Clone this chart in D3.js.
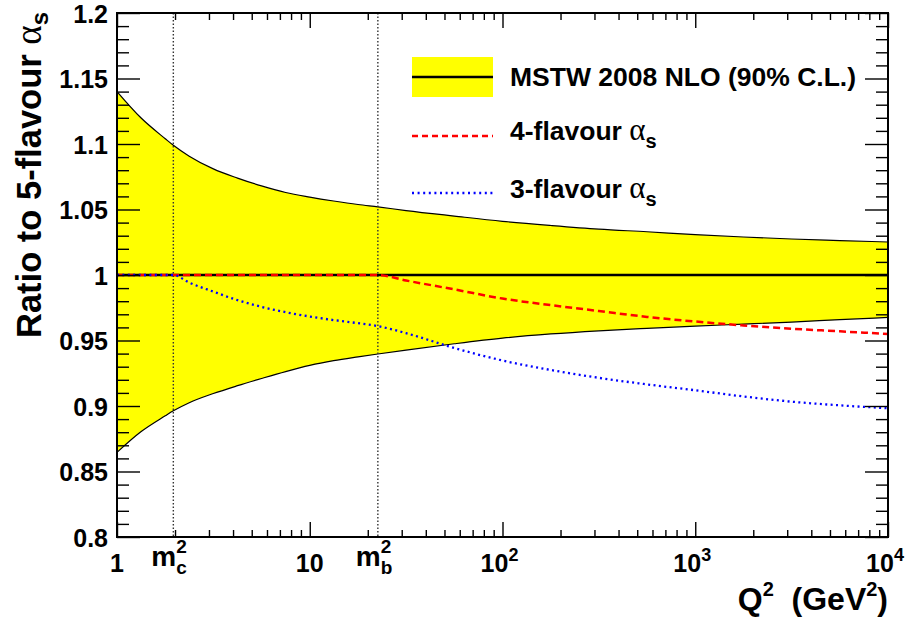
<!DOCTYPE html>
<html><head><meta charset="utf-8">
<script src="https://cdn.jsdelivr.net/npm/d3@7"></script>
<style>
html,body{margin:0;padding:0;background:#fff;}
svg{display:block;}
text{font-family:"Liberation Sans",Arial,Helvetica,sans-serif;font-weight:bold;fill:#000;}
.greek{font-family:"Liberation Serif","DejaVu Serif",serif;font-weight:normal;}
</style></head>
<body>
<svg id="chart" width="909" height="620"></svg>
<script>
// ---- data ----
const q2 = [1, 1.33, 1.78, 1.96, 2.37, 3.16, 4.22, 5.62, 7.5, 10, 13.3, 17.8, 22.56, 31.6, 56.2, 100, 178, 316, 562, 1000, 1778, 3162, 5623, 10000];
const bandUpper = [1.140, 1.120, 1.104, 1.099, 1.0907, 1.081, 1.074, 1.068, 1.063, 1.0595, 1.0565, 1.0538, 1.052, 1.0492, 1.045, 1.041, 1.0378, 1.035, 1.033, 1.0308, 1.029, 1.0275, 1.0263, 1.0252];
const bandLower = [0.8646, 0.8803, 0.8925, 0.8963, 0.9025, 0.9095, 0.9155, 0.921, 0.9263, 0.9310, 0.9346, 0.9375, 0.9397, 0.9427, 0.9475, 0.9518, 0.9550, 0.9574, 0.9593, 0.9610, 0.9625, 0.9641, 0.9659, 0.9676];
const central = [1, 1, 1, 1, 1, 1, 1, 1, 1, 1, 1, 1, 1, 1, 1, 1, 1, 1, 1, 1, 1, 1, 1, 1];
const fourFlavour = [1, 1, 1, 1, 1, 1, 1, 1, 1, 1, 1, 1, 1, 0.9958, 0.989, 0.982, 0.977, 0.9725, 0.968, 0.9645, 0.9615, 0.959, 0.957, 0.955];
const threeFlavour = [1, 1, 1, 1, 0.9942, 0.9873, 0.9808, 0.9757, 0.9716, 0.9683, 0.9656, 0.9632, 0.961, 0.9556, 0.9443, 0.9347, 0.9275, 0.9215, 0.9165, 0.912, 0.9073, 0.9033, 0.9005, 0.8983];
const thresholds = [{v: 1.96, sub: "c"}, {v: 22.56, sub: "b"}];
const yTicks = [0.8, 0.85, 0.9, 0.95, 1.0, 1.05, 1.1, 1.15, 1.2];
const xMajorTicks = [1, 10, 100, 1000, 10000];
const legendItems = ["MSTW 2008 NLO (90% C.L.)", "4-flavour ", "3-flavour "];

// ---- layout ----
const L = 117, R = 888, T = 13, B = 537;
const svg = d3.select("#chart");
const x = d3.scaleLog().domain([1, 1e4]).range([L, R]);
const y = d3.scaleLinear().domain([0.8, 1.2]).range([B, T]);

const rows = q2.map((q, i) => ({q, up: bandUpper[i], lo: bandLower[i], c: central[i], f4: fourFlavour[i], f3: threeFlavour[i]}));

const curve = d3.curveMonotoneX;
// band
svg.append("path").datum(rows)
  .attr("d", d3.area().x(d => x(d.q)).y0(d => y(d.lo)).y1(d => y(d.up)).curve(curve))
  .attr("fill", "#ffff00");
["up", "lo"].forEach(k => {
  svg.append("path").datum(rows)
    .attr("d", d3.line().x(d => x(d.q)).y(d => y(d[k])).curve(curve))
    .attr("fill", "none").attr("stroke", "#000").attr("stroke-width", 1.2);
});
// thresholds
thresholds.forEach(t => {
  svg.append("line").attr("x1", x(t.v)).attr("x2", x(t.v)).attr("y1", T).attr("y2", B)
    .attr("stroke", "#333").attr("stroke-width", 1.4).attr("stroke-dasharray", "1.5,2");
});
// central
svg.append("path").datum(rows)
  .attr("d", d3.line().x(d => x(d.q)).y(d => y(d.c)))
  .attr("fill", "none").attr("stroke", "#000").attr("stroke-width", 2.6);
// 4-flavour
svg.append("path").datum(rows)
  .attr("d", d3.line().x(d => x(d.q)).y(d => y(d.f4)).curve(curve))
  .attr("fill", "none").attr("stroke", "#ff0000").attr("stroke-width", 2.5).attr("stroke-dasharray", "7,4");
// 3-flavour
svg.append("path").datum(rows)
  .attr("d", d3.line().x(d => x(d.q)).y(d => y(d.f3)).curve(curve))
  .attr("fill", "none").attr("stroke", "#0000ff").attr("stroke-width", 2.3).attr("stroke-dasharray", "2,3.4");

// ---- axes ----
const xMinor = [];
for (let d = 1; d < 1e4; d *= 10) for (let m = 2; m <= 9; m++) xMinor.push(d * m);
const yMinor = d3.range(80, 121).map(v => v / 100).filter(v => Math.round(v * 100) % 5 !== 0);

function tickStyle(g) { g.select(".domain").remove(); g.selectAll("line").attr("stroke", "#000").attr("stroke-width", 1.4); }

svg.append("g").attr("transform", `translate(0,${B})`).call(d3.axisBottom(x).tickValues(xMinor).tickSize(-7).tickFormat("")).call(tickStyle);
svg.append("g").attr("transform", `translate(0,${B})`).call(d3.axisBottom(x).tickValues(xMajorTicks).tickSize(-15).tickFormat("")).call(tickStyle);
svg.append("g").attr("transform", `translate(0,${T})`).call(d3.axisTop(x).tickValues(xMinor).tickSize(-7).tickFormat("")).call(tickStyle);
svg.append("g").attr("transform", `translate(0,${T})`).call(d3.axisTop(x).tickValues(xMajorTicks).tickSize(-15).tickFormat("")).call(tickStyle);

svg.append("g").attr("transform", `translate(${L},0)`).call(d3.axisLeft(y).tickValues(yMinor).tickSize(-12).tickFormat("")).call(tickStyle);
const yAx = svg.append("g").attr("transform", `translate(${L},0)`)
  .call(d3.axisLeft(y).tickValues(yTicks).tickSize(-23).tickPadding(9).tickFormat(d => String(+d.toFixed(2))));
tickStyle(yAx);
yAx.selectAll("text").attr("font-size", 25).attr("font-family", "Liberation Sans, Arial, sans-serif").attr("font-weight", "bold").attr("dy", "0.36em");
svg.append("g").attr("transform", `translate(${R},0)`).call(d3.axisRight(y).tickValues(yMinor).tickSize(-12).tickFormat("")).call(tickStyle);
svg.append("g").attr("transform", `translate(${R},0)`).call(d3.axisRight(y).tickValues(yTicks).tickSize(-23).tickFormat("")).call(tickStyle);

// frame
svg.append("rect").attr("x", L).attr("y", T).attr("width", R - L).attr("height", B - T)
  .attr("fill", "none").attr("stroke", "#000").attr("stroke-width", 2);

// x tick labels
const xl = svg.append("g").attr("font-size", 25);
xMajorTicks.forEach(v => {
  const e = Math.round(Math.log10(v));
  const t = xl.append("text").attr("y", 572).attr("text-anchor", "middle");
  if (e === 0) { t.attr("x", x(v)).text("1"); }
  else if (e === 1) { t.attr("x", x(v)).text("10"); }
  else {
    t.attr("x", x(v) - 3);
    t.append("tspan").text("10");
    t.append("tspan").attr("font-size", 18).attr("dy", -11).text(String(e));
  }
});
thresholds.forEach(th => {
  svg.append("text").attr("x", x(th.v) - 22).attr("y", 566).attr("font-size", 28).text("m");
  svg.append("text").attr("x", x(th.v) + 3).attr("y", 553).attr("font-size", 19).text("2");
  svg.append("text").attr("x", x(th.v) + 3).attr("y", 574).attr("font-size", 19).text(th.sub);
});

// axis titles
const xt = svg.append("text").attr("x", 888).attr("y", 610).attr("text-anchor", "end").attr("font-size", 32);
xt.append("tspan").text("Q");
xt.append("tspan").attr("font-size", 20).attr("dy", -14).text("2");
xt.append("tspan").attr("dy", 14).text("\u00a0 (GeV");
xt.append("tspan").attr("font-size", 20).attr("dy", -14).text("2");
xt.append("tspan").attr("dy", 14).text(")");

const yt = svg.append("text").attr("transform", "translate(41,12) rotate(-90)").attr("text-anchor", "end").attr("font-size", 34.5);
yt.append("tspan").text("Ratio to 5-flavour ");
yt.append("tspan").attr("class", "greek").attr("font-size", 37).text("\u03b1");
yt.append("tspan").attr("font-size", 24).attr("dy", 7).text("s");

// ---- legend ----
const lg = svg.append("g");
const lx0 = 412, lx1 = 493, tx = 510;
const rowsY = [77, 136, 193];
const baseY = [86, 140, 198];
lg.append("rect").attr("x", lx0).attr("y", 57).attr("width", lx1 - lx0).attr("height", 40).attr("fill", "#ffff00");
lg.append("line").attr("x1", lx0).attr("x2", lx1).attr("y1", rowsY[0]).attr("y2", rowsY[0]).attr("stroke", "#000").attr("stroke-width", 2.6);
lg.append("line").attr("x1", lx0).attr("x2", lx1).attr("y1", rowsY[1]).attr("y2", rowsY[1]).attr("stroke", "#ff0000").attr("stroke-width", 2.5).attr("stroke-dasharray", "6,4");
lg.append("line").attr("x1", lx0).attr("x2", lx1).attr("y1", rowsY[2]).attr("y2", rowsY[2]).attr("stroke", "#0000ff").attr("stroke-width", 2.3).attr("stroke-dasharray", "2,3.6");
legendItems.forEach((s, i) => {
  const t = lg.append("text").attr("x", tx).attr("y", baseY[i]).attr("font-size", 26.5);
  t.append("tspan").text(s);
  if (i > 0) {
    t.append("tspan").attr("class", "greek").attr("font-size", 31).text("\u03b1");
    t.append("tspan").attr("font-size", 20).attr("dy", 8).text("s");
  }
});
</script>
</body></html>
